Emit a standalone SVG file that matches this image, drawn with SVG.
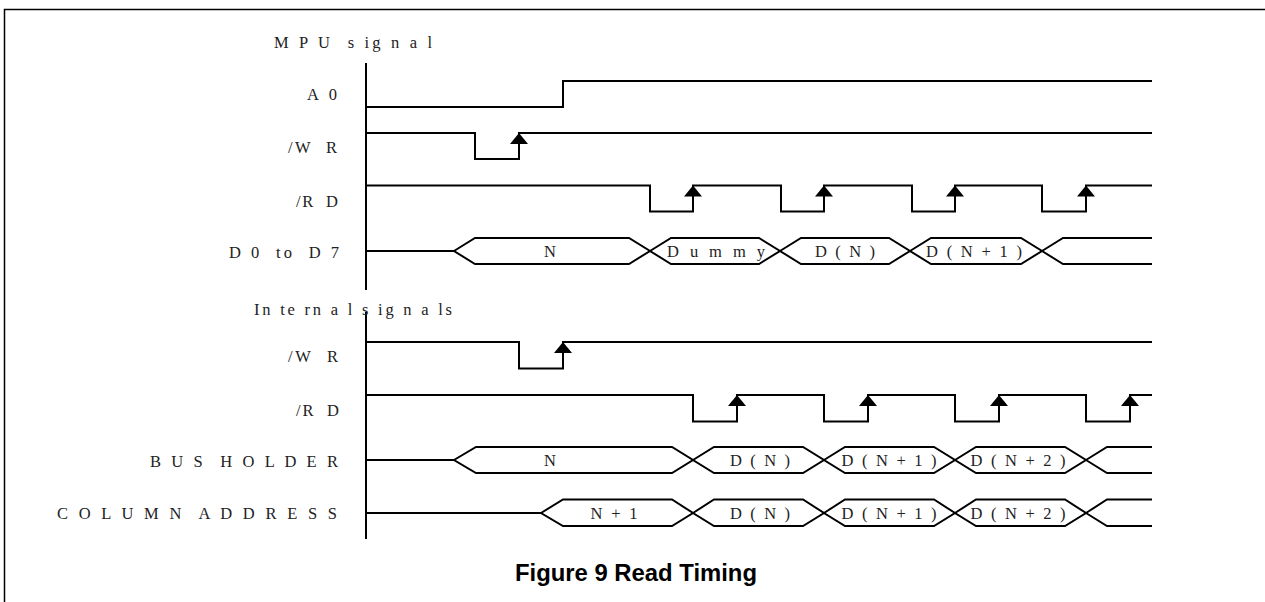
<svg xmlns="http://www.w3.org/2000/svg" width="1265" height="602" viewBox="0 0 1265 602">
<style>
.w{fill:none;stroke:#000;stroke-width:2;stroke-linejoin:miter}
.ax{fill:none;stroke:#000;stroke-width:2}
.fr{fill:none;stroke:#000;stroke-width:1.5}
.lb{font-family:"Liberation Serif","Times New Roman",serif;font-size:16.5px;fill:#222;white-space:pre}
.bt{font-family:"Liberation Serif","Times New Roman",serif;font-size:16.5px;fill:#222;text-anchor:middle;white-space:pre}
.cap{font-family:"Liberation Sans",Arial,sans-serif;font-size:23.5px;font-weight:bold;fill:#000}
.ar{fill:#000}
</style>
<defs>
<polygon id="arr" class="ar" points="0,0 -9,11 9,11"/>
</defs>
<rect width="1265" height="602" fill="#fff"/>
<path class="fr" d="M4.5,602 V9.5 H1265"/>

<g id="axis">
<path class="ax" d="M366,63 V290 M366,312 V539"/>
</g>

<g id="labels">
<text class="lb" x="274" y="48" textLength="158" lengthAdjust="spacing">M P U  s ig n a l</text>
<text class="lb" x="307" y="100" textLength="30" lengthAdjust="spacing">A 0</text>
<text class="lb" x="288" y="153" textLength="49" lengthAdjust="spacing">/W  R</text>
<text class="lb" x="296" y="206.5" textLength="42" lengthAdjust="spacing">/R  D</text>
<text class="lb" x="229" y="258" textLength="110" lengthAdjust="spacing">D 0  to  D 7</text>
<text class="lb" x="254" y="315" textLength="198" lengthAdjust="spacing">In te rn a l s ig n a ls</text>
<text class="lb" x="288" y="362" textLength="50" lengthAdjust="spacing">/W  R</text>
<text class="lb" x="296" y="416" textLength="43" lengthAdjust="spacing">/R  D</text>
<text class="lb" x="150" y="467" textLength="188" lengthAdjust="spacing">B U S  H O L D E R</text>
<text class="lb" x="57" y="519" textLength="280" lengthAdjust="spacing">C O L U M N  A D D R E S S</text>
</g>

<g id="mpu-a0">
<path class="w" d="M366,107 H563 V81 H1152"/>
</g>

<g id="mpu-wr">
<path class="w" d="M366,133 H475 V159 H519 V133 H1152"/>
<use href="#arr" x="519" y="133"/>
</g>

<g id="mpu-rd">
<path class="w" d="M366,185.5 H650 V211.5 H693 V185.5 H781 V211.5 H824 V185.5 H912 V211.5 H955 V185.5 H1042 V211.5 H1086 V185.5 H1152"/>
<use href="#arr" x="693" y="185.5"/>
<use href="#arr" x="824" y="185.5"/>
<use href="#arr" x="955" y="185.5"/>
<use href="#arr" x="1086" y="185.5"/>
</g>

<g id="mpu-data">
<path class="w" d="M366,251 H454"/>
<polygon class="w" points="454,251 475,238 629,238 650,251 629,264 475,264"/>
<polygon class="w" points="650,251 671,238 759,238 780,251 759,264 671,264"/>
<polygon class="w" points="780,251 801,238 889,238 910,251 889,264 801,264"/>
<polygon class="w" points="910,251 931,238 1021,238 1042,251 1021,264 931,264"/>
<path class="w" d="M1042,251 L1063,238 H1152 M1042,251 L1063,264 H1152"/>
<text class="bt" x="550" y="257">N</text>
<text class="bt" x="716" y="257" textLength="98" lengthAdjust="spacing">D u m m y</text>
<text class="bt" x="845" y="257" textLength="60" lengthAdjust="spacing">D ( N )</text>
<text class="bt" x="974" y="257" textLength="96" lengthAdjust="spacing">D ( N + 1 )</text>
</g>

<g id="int-wr">
<path class="w" d="M366,342 H519 V368.5 H563 V342 H1152"/>
<use href="#arr" x="563" y="342"/>
</g>

<g id="int-rd">
<path class="w" d="M366,395 H693 V421.5 H737 V395 H824 V421.5 H868 V395 H955 V421.5 H999 V395 H1086 V421.5 H1130 V395 H1152"/>
<use href="#arr" x="737" y="395"/>
<use href="#arr" x="868" y="395"/>
<use href="#arr" x="999" y="395"/>
<use href="#arr" x="1130" y="395"/>
</g>

<g id="bus-holder">
<path class="w" d="M366,460 H454"/>
<polygon class="w" points="454,460 476,447 672,447 693,460 672,473 476,473"/>
<polygon class="w" points="693,460 714,447 803,447 824,460 803,473 714,473"/>
<polygon class="w" points="824,460 845,447 934,447 955,460 934,473 845,473"/>
<polygon class="w" points="955,460 976,447 1065,447 1086,460 1065,473 976,473"/>
<path class="w" d="M1086,460 L1107,447 H1152 M1086,460 L1107,473 H1152"/>
<text class="bt" x="550" y="466">N</text>
<text class="bt" x="760" y="466" textLength="60" lengthAdjust="spacing">D ( N )</text>
<text class="bt" x="889" y="466" textLength="95" lengthAdjust="spacing">D ( N + 1 )</text>
<text class="bt" x="1018" y="466" textLength="95" lengthAdjust="spacing">D ( N + 2 )</text>
</g>

<g id="column-address">
<path class="w" d="M366,513 H541"/>
<polygon class="w" points="541,513 563,499.5 672,499.5 693,513 672,526 563,526"/>
<polygon class="w" points="693,513 714,499.5 803,499.5 824,513 803,526 714,526"/>
<polygon class="w" points="824,513 845,499.5 934,499.5 955,513 934,526 845,526"/>
<polygon class="w" points="955,513 976,499.5 1065,499.5 1086,513 1065,526 976,526"/>
<path class="w" d="M1086,513 L1107,499.5 H1152 M1086,513 L1107,526 H1152"/>
<text class="bt" x="614" y="519" textLength="47" lengthAdjust="spacing">N + 1</text>
<text class="bt" x="760" y="519" textLength="60" lengthAdjust="spacing">D ( N )</text>
<text class="bt" x="889" y="519" textLength="95" lengthAdjust="spacing">D ( N + 1 )</text>
<text class="bt" x="1018" y="519" textLength="95" lengthAdjust="spacing">D ( N + 2 )</text>
</g>

<g id="caption">
<text class="cap" x="515" y="581" textLength="242" lengthAdjust="spacingAndGlyphs">Figure 9 Read Timing</text>
</g>
</svg>
